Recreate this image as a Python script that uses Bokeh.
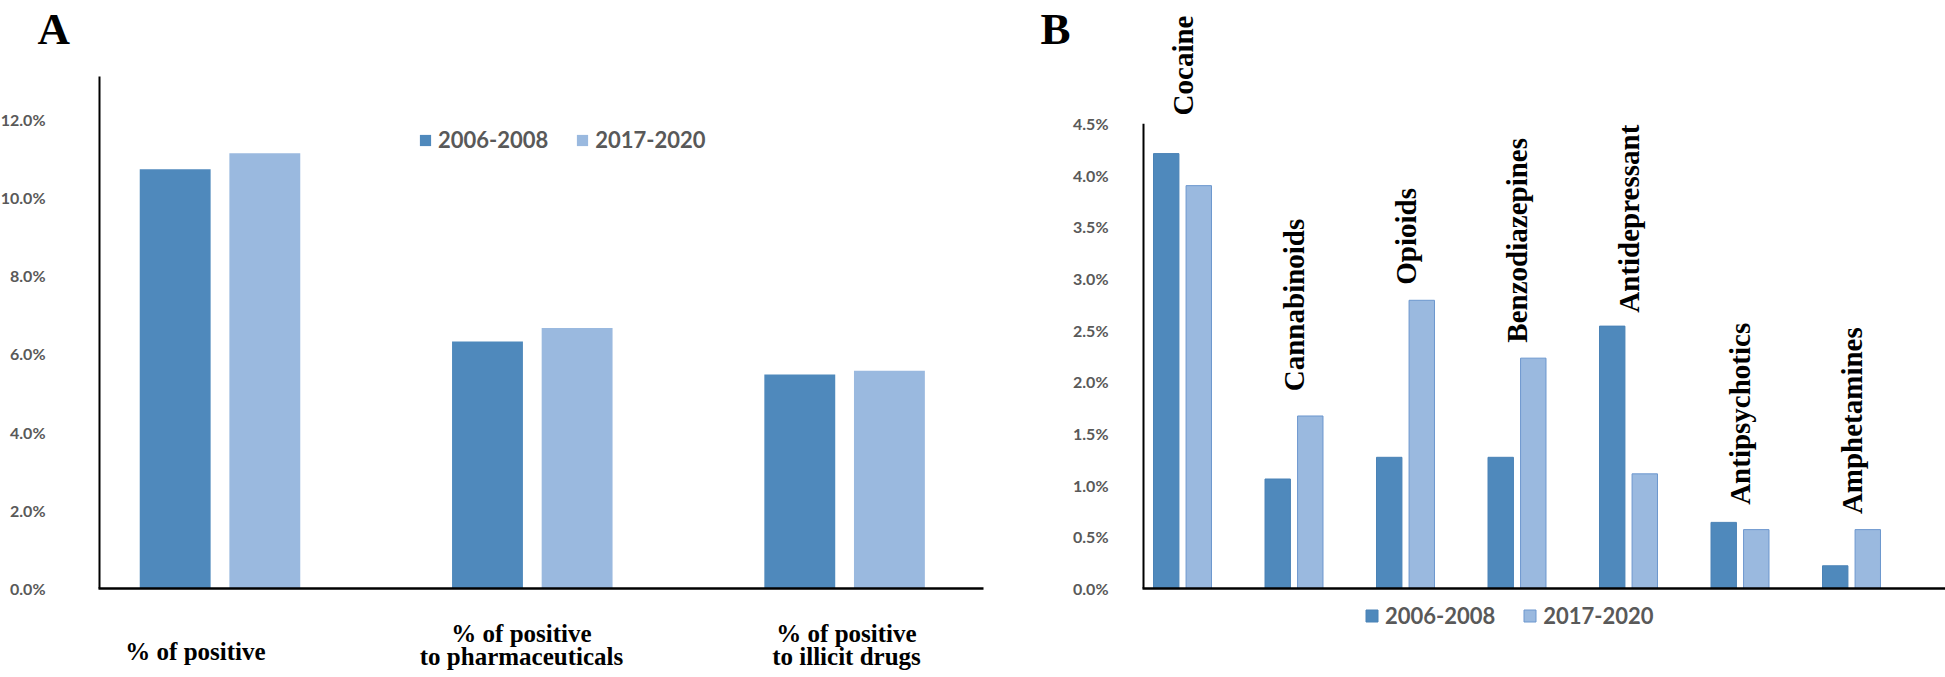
import math
from bokeh.plotting import figure
from bokeh.layouts import row
from bokeh.models import Range1d, Legend, LegendItem, ColumnDataSource
from bokeh.core.properties import value
from bokeh.embed import file_html
from bokeh.resources import INLINE

# ---------------- data ----------------
series = ["2006-2008", "2017-2020"]

a_categories = ["% of positive",
                "% of positive\nto pharmaceuticals",
                "% of positive\nto illicit drugs"]
a_2006 = [10.72, 6.32, 5.47]
a_2017 = [11.13, 6.66, 5.57]
a_ticks = [0, 2, 4, 6, 8, 10, 12]

b_categories = ["Cocaine", "Cannabinoids", "Opioids", "Benzodiazepines",
                "Antidepressant", "Antipsychotics", "Amphetamines"]
b_2006 = [4.21, 1.06, 1.27, 1.27, 2.54, 0.64, 0.22]
b_2017 = [3.90, 1.67, 2.79, 2.23, 1.11, 0.57, 0.57]
b_ticks = [0.0, 0.5, 1.0, 1.5, 2.0, 2.5, 3.0, 3.5, 4.0, 4.5]

# ---------------- layout constants (page pixels) ----------------
H = 677
WA, WB = 1030, 915
b_label_anchor = [4.58, 1.91, 2.94, 2.38, 2.67, 0.81, 0.72]   # % value where rotated names start
a_label_cx = [195, 521, 846]                                  # px centres of category texts

DARK = "#4F89BC"
LIGHT = "#9AB9DF"
GREY = "#595959"
SANS = "Lato"
SERIF = "Liberation Serif"


def make_fig(W, left, x0px, xunit, y0px, yunit):
    """x0px / y0px are page pixels of data zero; left is the page x of the canvas."""
    c0 = x0px - left
    p = figure(width=W, height=H,
               x_range=Range1d(-c0 / xunit, (W - c0) / xunit),
               y_range=Range1d(-(H - y0px) / yunit, y0px / yunit),
               output_backend="svg", toolbar_location=None,
               min_border_left=0, min_border_right=0,
               min_border_top=0, min_border_bottom=0)
    p.axis.visible = False
    p.xgrid.visible = False
    p.ygrid.visible = False
    p.outline_line_color = None
    p.background_fill_color = "white"
    p.border_fill_color = "white"
    px2x = lambda px: (px - x0px) / xunit
    px2y = lambda py: (y0px - py) / yunit
    return p, px2x, px2y


def legend(p, rends, loc, gw):
    lg = Legend(items=[LegendItem(label=series[0], renderers=[rends[0]]),
                       LegendItem(label=series[1], renderers=[rends[1]])],
                location=loc, orientation="horizontal",
                glyph_width=gw, glyph_height=gw, label_standoff=6, spacing=27,
                padding=0, margin=0, border_line_color=None,
                background_fill_alpha=0,
                label_text_font=SANS, label_text_font_style="bold",
                label_text_font_size="22px", label_text_color=GREY)
    p.add_layout(lg)


# ---------------- panel A ----------------
pA, ax, ay = make_fig(WA, 0, 219.5, 312.3, 588, 39.1)
a_x = list(range(len(a_categories)))
srcA = ColumnDataSource(dict(
    x1=[v - 0.1435 for v in a_x], x2=[v + 0.1435 for v in a_x],
    y1=a_2006, y2=a_2017))
rA1 = pA.vbar(x="x1", top="y1", width=0.227, source=srcA,
              fill_color=DARK, line_color=None)
rA2 = pA.vbar(x="x2", top="y2", width=0.227, source=srcA,
              fill_color=LIGHT, line_color=None)

pA.segment(x0=[ax(99)], y0=[0], x1=[ax(99)], y1=[ay(76)], line_color="black", line_width=2)
pA.segment(x0=[ax(98)], y0=[0], x1=[ax(983)], y1=[0], line_color="black", line_width=2.6)
pA.text(x=[ax(99)] * len(a_ticks), y=a_ticks, text=["%.1f%%" % t for t in a_ticks],
        x_offset=-54, text_align="right", text_baseline="middle",
        text_font=value(SANS), text_font_style="bold", text_font_size="16px",
        text_color=GREY)

tx, ty, tt = [], [], []
for i, cat in enumerate(a_categories):
    lines = cat.split("\n")
    bases = [651] if len(lines) == 1 else [633, 656]
    for ln, b in zip(lines, bases):
        tx.append(ax(a_label_cx[i])); ty.append(ay(b)); tt.append(ln)
pA.text(x=tx, y=ty, text=tt, text_align="center", text_baseline="alphabetic",
        text_font=value(SERIF), text_font_style="bold", text_font_size="25px",
        text_color="black")

pA.text(x=[ax(37)], y=[ay(28)], text=["A"], text_align="left", text_baseline="alphabetic",
        text_font=value(SERIF), text_font_style="bold", text_font_size="45px",
        text_color="black")

legend(pA, [rA1, rA2], (418, H - 153), 14)

# ---------------- panel B ----------------
pB, bx, by = make_fig(WB, WA, 1182, 111.5, 588, 103.3)
b_x = list(range(len(b_categories)))
srcB = ColumnDataSource(dict(
    x1=[v - 0.146 for v in b_x], x2=[v + 0.146 for v in b_x],
    y1=b_2006, y2=b_2017))
rB1 = pB.vbar(x="x1", top="y1", width=0.228, source=srcB,
              fill_color=DARK, line_color="#4A82B6", line_width=1)
rB2 = pB.vbar(x="x2", top="y2", width=0.228, source=srcB,
              fill_color=LIGHT, line_color="#6C97CE", line_width=1)

pB.segment(x0=[bx(1143)], y0=[0], x1=[bx(1143)], y1=[b_ticks[-1]], line_color="black", line_width=2)
pB.segment(x0=[bx(1142)], y0=[0], x1=[bx(1945)], y1=[0], line_color="black", line_width=2.6)
pB.text(x=[bx(1143)] * len(b_ticks), y=b_ticks, text=["%.1f%%" % t for t in b_ticks],
        x_offset=-35, text_align="right", text_baseline="middle",
        text_font=value(SANS), text_font_style="bold", text_font_size="16px",
        text_color=GREY)

pB.text(x=b_x, y=b_label_anchor, text=b_categories, angle=math.pi / 2,
        text_align="left", text_baseline="middle",
        text_font=value(SERIF), text_font_style="bold", text_font_size="29px",
        text_color="black")

pB.text(x=[bx(1040)], y=[by(28)], text=["B"], text_align="left", text_baseline="alphabetic",
        text_font=value(SERIF), text_font_style="bold", text_font_size="45px",
        text_color="black")

legend(pB, [rB1, rB2], (1364 - WA, H - 629), 15)

layout = row(pA, pB)
open("out.html", "w").write(file_html(layout, INLINE))
